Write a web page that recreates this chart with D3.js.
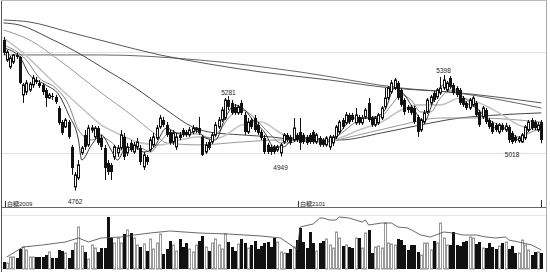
<!DOCTYPE html>
<html>
<head>
<meta charset="utf-8">
<script src="https://cdn.jsdelivr.net/npm/d3@7"></script>
<style>
  html, body { margin: 0; padding: 0; background: #fff; }
  svg { display: block; }
  text { font-family: "Liberation Sans", "Noto Sans CJK SC", sans-serif; fill: #222; }
</style>
</head>
<body>
<div id="chart"></div>
<script>
/* Daily bars, [open, high, low, close]. */
const candles = [
  [5590,5607,5508,5519],[5480,5535,5469,5524],[5442,5502,5431,5491],[5469,5513,5458,5508],[5508,5519,5486,5497],
  [5497,5502,5348,5354],[5288,5354,5244,5343],[5304,5370,5288,5354],[5315,5359,5304,5348],[5343,5398,5326,5381],
  [5370,5387,5348,5359],[5354,5370,5326,5337],[5343,5354,5288,5304],[5315,5326,5222,5271],[5271,5299,5266,5288],
  [5282,5299,5260,5277],[5277,5288,5238,5249],[5216,5227,5123,5134],[5139,5150,5068,5079],[5112,5161,5106,5150],
  [5139,5150,5046,5057],[5002,5013,4848,4886],[4782,4864,4762,4848],[4831,4930,4820,4903],[4969,5007,4958,4996],
  [5068,5095,4985,5002],[5013,5123,5002,5106],[5095,5123,5079,5106],[5057,5117,5046,5106],[5106,5117,5013,5024],
  [5051,5068,4985,5002],[4996,5013,4820,4886],[4914,4930,4848,4864],[4903,4914,4820,4864],[4947,5013,4930,5002],
  [4969,5013,4947,4996],[4996,5095,4985,5068],[5057,5079,4930,4947],[4969,5024,4952,5002],[5024,5040,4974,4985],
  [4974,5029,4963,5013],[5002,5051,4985,5029],[4996,5013,4903,4919],[4892,4974,4875,4958],[4947,4958,4903,4919],
  [4985,5057,4974,5040],[5013,5079,5002,5057],[5051,5123,5040,5106],[5112,5178,5101,5161],[5150,5167,5112,5123],
  [5123,5139,5057,5068],[5084,5095,5013,5024],[5029,5095,5013,5079],[5002,5079,4985,5057],[5068,5084,5040,5051],
  [5095,5106,5057,5068],[5084,5095,5057,5068],[5068,5112,5057,5095],[5084,5123,5073,5106],[5095,5112,5079,5106],
  [5106,5167,5068,5079],[5057,5068,4952,4958],[4974,5029,4963,5013],[5029,5040,4985,4996],[5029,5084,5018,5068],
  [5068,5139,5057,5123],[5112,5167,5101,5150],[5150,5222,5139,5205],[5161,5271,5150,5260],[5260,5281,5205,5222],
  [5244,5260,5178,5189],[5222,5238,5178,5189],[5189,5233,5178,5222],[5244,5260,5178,5189],[5178,5194,5068,5084],
  [5084,5161,5073,5139],[5150,5161,5101,5112],[5161,5178,5084,5095],[5123,5139,5068,5079],[5084,5095,5040,5051],
  [5051,5068,4963,4974],[5013,5024,4963,4974],[5002,5013,4958,4974],[5002,5013,4963,4974],[4985,5013,4974,5002],
  [4969,5024,4949,5013],[5029,5079,5018,5068],[5068,5079,5029,5040],[5057,5068,5013,5024],[5040,5161,5029,5106],
  [5068,5079,5029,5040],[5084,5161,4985,5024],[5068,5079,5018,5029],[5057,5068,5013,5024],[5068,5079,5018,5029],
  [5084,5095,5018,5029],[5029,5079,5018,5068],[5051,5062,5002,5013],[5040,5051,5002,5013],[5013,5062,5002,5051],
  [5002,5068,4985,5057],[5024,5068,5007,5057],[5057,5123,5046,5112],[5084,5150,5073,5139],[5150,5161,5101,5112],
  [5134,5194,5123,5178],[5178,5189,5128,5139],[5178,5189,5139,5150],[5134,5216,5123,5178],[5167,5178,5123,5134],
  [5134,5178,5123,5161],[5167,5216,5156,5205],[5244,5271,5139,5150],[5161,5172,5112,5123],[5123,5172,5112,5161],
  [5134,5189,5123,5178],[5161,5227,5150,5216],[5222,5326,5211,5271],[5271,5337,5260,5326],[5304,5370,5293,5354],
  [5326,5381,5315,5370],[5354,5365,5260,5271],[5315,5326,5222,5233],[5260,5271,5178,5194],[5222,5233,5189,5205],
  [5222,5233,5178,5189],[5216,5227,5128,5139],[5167,5178,5057,5084],[5095,5161,5084,5150],[5139,5205,5128,5189],
  [5194,5271,5183,5260],[5244,5288,5233,5277],[5299,5310,5249,5260],[5277,5326,5266,5315],[5299,5387,5288,5326],
  [5326,5398,5315,5370],[5315,5365,5304,5354],[5381,5392,5321,5332],[5343,5354,5288,5299],[5326,5337,5277,5288],
  [5315,5326,5233,5244],[5271,5282,5222,5233],[5244,5255,5205,5216],[5216,5271,5205,5260],[5233,5282,5222,5271],
  [5244,5255,5167,5178],[5194,5205,5112,5123],[5167,5227,5156,5216],[5205,5216,5128,5139],[5150,5161,5101,5112],
  [5134,5145,5073,5084],[5123,5134,5084,5095],[5084,5134,5073,5123],[5123,5134,5084,5095],[5095,5134,5084,5117],
  [5112,5123,5024,5040],[5079,5090,5018,5029],[5057,5068,5024,5035],[5035,5062,5024,5051],[5029,5079,5024,5068],
  [5051,5123,5040,5112],[5095,5150,5084,5139],[5150,5161,5095,5106],[5139,5150,5095,5106],[5095,5139,5084,5123],
  [5139,5150,5022,5040]
];

/* Volume per bar (thousand lots). */
const volumes = [
  7,6,12,12,11,20,22,19,12,12,12,12,12,14,17,11,11,19,18,16,11,19,26,42,23,17,10,24,21,17,21,21,52,31,26,31,26,35,39,36,31,24,
  22,25,18,30,20,26,35,15,20,28,24,18,30,22,26,20,17,24,28,33,22,18,26,30,24,20,35,27,22,18,25,30,26,21,24,28,20,23,26,
  27,22,31,27,17,16,16,20,22,29,41,27,21,37,26,18,26,28,30,24,21,37,31,23,24,22,21,31,31,21,36,39,16,22,23,21,46,26,25,24,30,29,24,
  19,24,24,17,14,26,26,19,28,26,46,31,24,24,37,24,23,27,28,32,31,25,27,21,21,26,22,20,23,26,27,20,23,16,16,29,24,19,14,17,17,16
].slice(0, 166);

/* Moving averages: [bar index, price]. */
const ma5 = [[0,5546],[5,5497],[8,5398],[13,5343],[17,5288],[20,5178],[23,5040],[24,4930],[27,5013],[30,5068],
  [33,4985],[35,4930],[37,4985],[40,5002],[43,4974],[46,4996],[50,5106],[53,5079],[56,5068],[59,5090],[62,5051],
  [65,5040],[68,5161],[71,5233],[74,5205],[77,5139],[80,5084],[83,5002],[86,5002],[89,5051],[92,5051],[96,5051],
  [99,5029],[102,5051],[105,5123],[108,5161],[111,5161],[114,5167],[117,5205],[120,5326],[123,5288],[126,5205],
  [129,5139],[132,5260],[135,5343],[138,5326],[142,5244],[145,5216],[148,5161],[151,5106],[154,5106],[157,5040],
  [160,5068],[163,5112],[165,5106]];
const ma10 = [[0,5563],[7,5480],[11,5381],[16,5326],[20,5233],[23,5095],[27,5040],[30,5057],[33,5029],[36,4985],
  [39,4985],[42,4996],[45,4974],[48,5029],[51,5079],[54,5079],[57,5073],[60,5073],[63,5051],[66,5084],[69,5161],
  [73,5205],[76,5178],[79,5123],[82,5068],[85,5024],[88,5024],[91,5046],[94,5051],[97,5040],[100,5040],[103,5068],
  [106,5112],[109,5150],[112,5161],[116,5172],[119,5233],[122,5288],[125,5260],[128,5194],[131,5194],[134,5271],
  [137,5315],[140,5288],[143,5249],[146,5205],[149,5150],[152,5123],[155,5084],[158,5057],[162,5084],[165,5106]];
const ma20 = [[0,5601],[5,5535],[14,5381],[24,5216],[30,5123],[36,5068],[42,5024],[48,5013],[54,5040],[60,5057],
  [66,5051],[73,5123],[79,5139],[85,5079],[91,5040],[97,5035],[103,5051],[109,5095],[116,5139],[122,5205],
  [128,5233],[134,5233],[140,5271],[146,5244],[152,5189],[158,5123],[165,5095]];
const ma40 = [[0,5645],[8,5590],[17,5480],[30,5299],[40,5167],[46,5079],[50,5024],[60,5013],[73,5029],
  [85,5040],[97,5029],[109,5068],[122,5123],[134,5161],[146,5161],[158,5150],[165,5139]];
const ma60 = [[0,5684],[5,5672],[14,5601],[24,5508],[30,5442],[40,5332],[50,5205],[58,5112],[63,5084],
  [73,5068],[82,5057],[91,5040],[103,5040],[116,5079],[128,5123],[140,5161],[152,5178],[165,5189]];
const ma120 = [[0,5700],[8,5689],[20,5634],[33,5574],[48,5508],[63,5458],[79,5414],[100,5370],[119,5326],
  [137,5304],[165,5244]];
const ma250 = [[0,5508],[30,5508],[60,5480],[91,5414],[122,5326],[139,5299],[165,5216]];

/* Open interest: [bar index, thousand lots]. */
const openInterest = [[1,12],[6,22],[12,24],[19,27],[23,31],[26,27],[30,31],[36,32],[40,34],[45,36],[51,38],
  [60,36],[69,35],[79,33],[82,32],[85,31],[89,22],[90,19],[91,42],[95,45],[97,51],[98,51],[100,49],[102,49],
  [103,52],[106,51],[110,47],[111,49],[112,44],[116,46],[119,46],[121,42],[124,41],[128,34],[131,32],[135,37],
  [138,36],[141,34],[145,34],[148,32],[151,31],[154,32],[155,29],[158,27],[162,24],[165,19]];

/* Contract roll markers and marked extremes. */
const contracts = [{ i: 1, name: '白糖2009' }, { i: 91, name: '白糖2101' }];
const extremes = [{ i: 22, kind: 'low' }, { i: 69, kind: 'high' }, { i: 85, kind: 'low' },
  { i: 135, kind: 'high' }, { i: 156, kind: 'low' }];
const gridPrices = [5524, 4969];

const W = 550, H = 272;
const mainBottom = 207.5;
const n = candles.length;

const svg = d3.select('#chart').append('svg')
  .attr('width', W).attr('height', H);

const x = d3.scaleLinear().domain([0, n - 1]).range([3.5, 541.4]);
const px = (i) => Math.round(x(i));
const y = d3.scaleLinear().domain([4700, 5600]).range([201.8, 38.2]);
const yVol = d3.scaleLinear().domain([0, 60]).range([269, 209]);
const yOI = d3.scaleLinear().domain([0, 60]).range([269, 209]);

svg.append('clipPath').attr('id', 'clip-main')
  .append('rect').attr('x', 2).attr('y', 0).attr('width', 544).attr('height', mainBottom);

// grid
svg.append('g').selectAll('line').data(gridPrices).join('line')
  .attr('x1', 2).attr('x2', 546)
  .attr('y1', (d) => Math.round(y(d)) + 0.5).attr('y2', (d) => Math.round(y(d)) + 0.5)
  .attr('stroke', '#e2e2e2');
svg.append('line').attr('x1', 2).attr('x2', 546).attr('y1', 215.5).attr('y2', 215.5).attr('stroke', '#e6e6e6');

const plot = svg.append('g').attr('clip-path', 'url(#clip-main)');

// moving averages
const line = d3.line()
  .x((d) => x(d[0]))
  .y((d) => y(d[1]))
  .curve(d3.curveMonotoneX);
const maStyles = [
  { data: ma250, color: '#555', width: 0.9 },
  { data: ma120, color: '#444', width: 0.9 },
  { data: ma60, color: '#333', width: 0.9 },
  { data: ma40, color: '#999', width: 1 },
  { data: ma20, color: '#c4c4c4', width: 1.6 },
  { data: ma10, color: '#777', width: 0.9 },
  { data: ma5, color: '#222', width: 0.9 }
];
plot.selectAll('.ma').data(maStyles).join('path')
  .attr('class', 'ma')
  .attr('fill', 'none')
  .attr('stroke', (d) => d.color)
  .attr('stroke-width', (d) => d.width)
  .attr('d', (d) => line(d.data));

// candles
const bars = plot.selectAll('.candle').data(candles).join('g').attr('class', 'candle');
bars.append('line')
  .attr('x1', (d, i) => px(i) + 0.5).attr('x2', (d, i) => px(i) + 0.5)
  .attr('y1', (d) => y(d[1])).attr('y2', (d) => y(d[2]))
  .attr('stroke', '#111').attr('stroke-width', 1);
bars.append('rect')
  .attr('x', (d, i) => d[3] >= d[0] ? px(i) - 0.5 : px(i) - 1)
  .attr('width', (d) => d[3] >= d[0] ? 2 : 3)
  .attr('y', (d) => y(Math.max(d[0], d[3])))
  .attr('height', (d) => Math.max(1, Math.abs(y(d[0]) - y(d[3]))))
  .attr('fill', (d) => d[3] >= d[0] ? '#fff' : '#111')
  .attr('stroke', (d) => d[3] >= d[0] ? '#111' : 'none')
  .attr('stroke-width', 1);

// extreme labels
svg.append('g').selectAll('text').data(extremes).join('text')
  .attr('x', (d) => x(d.i))
  .attr('y', (d) => d.kind === 'high' ? y(candles[d.i][1]) - 1.5 : y(candles[d.i][2]) + 13)
  .attr('text-anchor', 'middle')
  .style('font-size', '6.5px')
  .text((d) => d.kind === 'high' ? candles[d.i][1] : candles[d.i][2]);

// contract roll labels
const roll = svg.append('g').selectAll('g').data(contracts).join('g');
roll.append('line')
  .attr('x1', (d) => px(d.i) - 1.5).attr('x2', (d) => px(d.i) - 1.5)
  .attr('y1', 201).attr('y2', 207).attr('stroke', '#333');
roll.append('text')
  .attr('x', (d) => px(d.i)).attr('y', 206)
  .style('font-size', '6px')
  .text((d) => d.name);
svg.append('line').attr('x1', 541.5).attr('x2', 541.5).attr('y1', 200).attr('y2', 207).attr('stroke', '#333');

// panel frame
svg.append('line').attr('x1', 2).attr('x2', 546).attr('y1', mainBottom).attr('y2', mainBottom).attr('stroke', '#666');
svg.append('line').attr('x1', 1.5).attr('x2', 1.5).attr('y1', 0).attr('y2', H).attr('stroke', '#555');
svg.append('line').attr('x1', 546.5).attr('x2', 546.5).attr('y1', 0).attr('y2', H).attr('stroke', '#aaa');
svg.append('line').attr('x1', 1).attr('x2', 547).attr('y1', 0.5).attr('y2', 0.5).attr('stroke', '#bbb');

// volume
svg.append('g').selectAll('rect').data(volumes).join('rect')
  .attr('x', (d, i) => candles[i][3] >= candles[i][0] ? px(i) - 0.5 : px(i) - 1)
  .attr('width', (d, i) => candles[i][3] >= candles[i][0] ? 2 : 3)
  .attr('y', (d) => yVol(d))
  .attr('height', (d) => yVol(0) - yVol(d))
  .attr('fill', (d, i) => candles[i][3] >= candles[i][0] ? '#fff' : '#111')
  .attr('stroke', (d, i) => candles[i][3] >= candles[i][0] ? '#999' : 'none');

svg.append('path')
  .datum(openInterest)
  .attr('fill', 'none')
  .attr('stroke', '#444')
  .attr('stroke-width', 0.8)
  .attr('d', d3.line().x((d) => x(d[0])).y((d) => yOI(d[1])));
</script>
</body>
</html>
